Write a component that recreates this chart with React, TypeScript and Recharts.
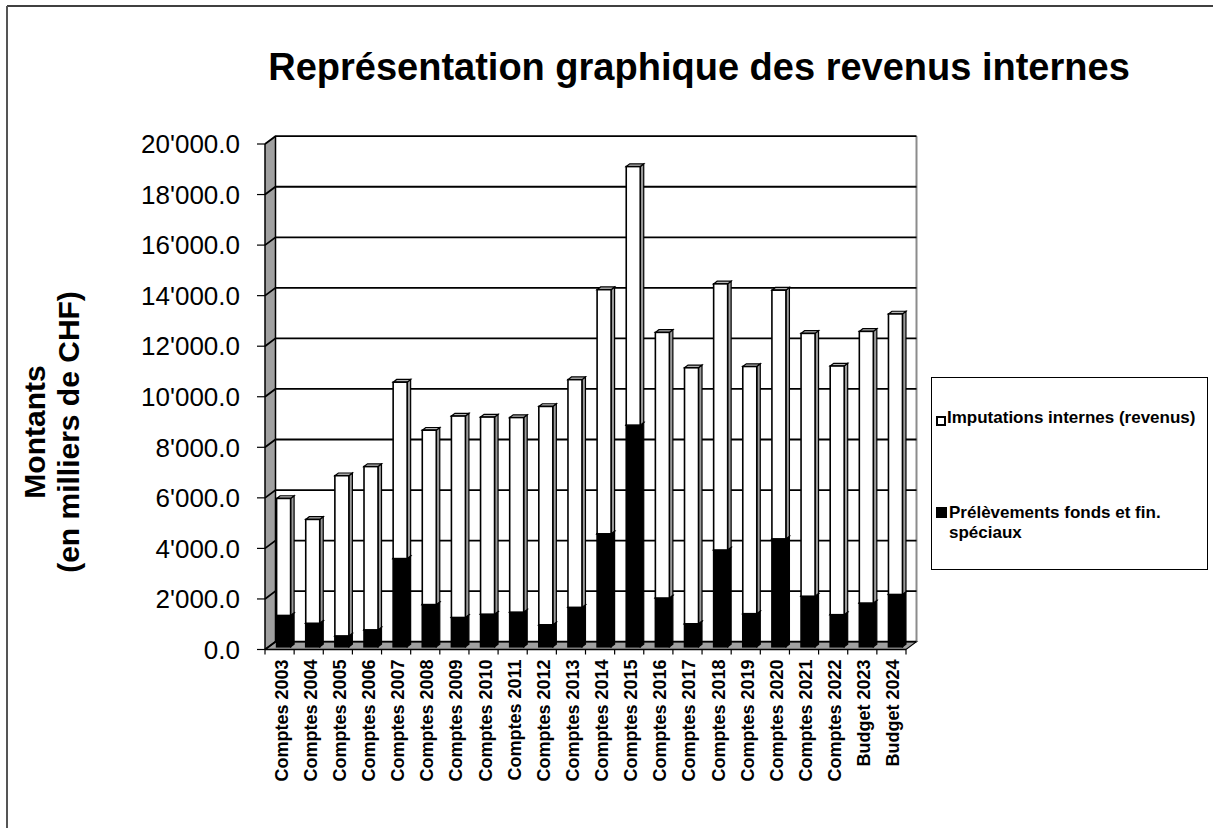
import { BarChart, Bar, XAxis, YAxis, CartesianGrid, Legend } from "recharts";

const categories = [
  "Comptes 2003", "Comptes 2004", "Comptes 2005", "Comptes 2006", "Comptes 2007",
  "Comptes 2008", "Comptes 2009", "Comptes 2010", "Comptes 2011", "Comptes 2012",
  "Comptes 2013", "Comptes 2014", "Comptes 2015", "Comptes 2016", "Comptes 2017",
  "Comptes 2018", "Comptes 2019", "Comptes 2020", "Comptes 2021", "Comptes 2022",
  "Budget 2023", "Budget 2024"
];
const prelevements = [
  1240, 930, 430, 670, 3490, 1670, 1160, 1290, 1370, 870, 1560,
  4470, 8770, 1930, 910, 3830, 1310, 4270, 2000, 1270, 1730, 2070
];
const imputations = [
  4630, 4110, 6340, 6460, 6980, 6900, 7970, 7800, 7700, 8640, 9010,
  9660, 10230, 10510, 10130, 10530, 9780, 9840, 10400, 9840, 10750, 11100
];
const yTicks = [0, 2000, 4000, 6000, 8000, 10000, 12000, 14000, 16000, 18000, 20000];

const seriesNames = ["Imputations internes (revenus)", "Prélèvements fonds et fin. spéciaux"];
const title = "Représentation graphique des revenus internes";

const data = categories.map((cat, i) => ({
  cat,
  prel: prelevements[i],
  imp: imputations[i]
}));

const FONT = "'Liberation Sans', Arial, sans-serif";
const W = 1213;
const H = 828;
// plot frame (front face)
const L = 265;
const R = 906;
const T = 144;
const B = 649.5;
const HALF_BAND = (R - L) / categories.length / 2;
// 3d offsets: back wall, bar position, bar depth
const WX = 10.5;
const WY = -7.8;
const BX = 3.6;
const BY = -2.7;
const DX = 3.5;
const DY = -2.7;

const fmt = (v: number) => {
  const s = Math.round(v).toString().replace(/\B(?=(\d{3})+(?!\d))/g, "'");
  return s + ".0";
};

const gridLine = (p: any) => (
  <polyline
    key={p.key}
    points={`${p.x1},${p.y1} ${p.x1 + WX},${p.y1 + WY} ${p.x2 + WX},${p.y1 + WY}`}
    fill="none"
    stroke="#000"
    strokeWidth={1.8}
  />
);

const makeBox = (face: string, side: string, top: string) => (p: any) => {
  const { x, y, width, height } = p;
  if (!height) return <g />;
  const fx = x + BX;
  const fy = y + BY;
  return (
    <g>
      <polygon
        points={`${fx + width},${fy} ${fx + width + DX},${fy + DY} ${fx + width + DX},${fy + height + DY} ${fx + width},${fy + height}`}
        fill={side}
        stroke="#000"
        strokeWidth={1.2}
      />
      <polygon
        points={`${fx},${fy} ${fx + DX},${fy + DY} ${fx + width + DX},${fy + DY} ${fx + width},${fy}`}
        fill={top}
        stroke="#000"
        strokeWidth={1.2}
      />
      <rect x={fx} y={fy} width={width} height={height} fill={face} stroke="#000" strokeWidth={1.6} />
    </g>
  );
};

// category label plus tick marks on the band edges
const CatTick = (p: any) => {
  const last = p.index === categories.length - 1;
  return (
    <g>
      <line x1={p.x - HALF_BAND} y1={p.y} x2={p.x - HALF_BAND} y2={p.y + 5} stroke="#000" strokeWidth={1.2} />
      {last && <line x1={p.x + HALF_BAND} y1={p.y} x2={p.x + HALF_BAND} y2={p.y + 5} stroke="#000" strokeWidth={1.2} />}
      <text
        transform={`translate(${p.x + 8},${p.y + 10}) rotate(-90)`}
        textAnchor="end"
        fontFamily={FONT}
        fontSize={18}
        fontWeight="bold"
        fill="#000"
      >
        {p.payload.value}
      </text>
    </g>
  );
};

const LegendBox = () => (
  <div
    style={{
      position: "relative",
      width: 277,
      height: 193,
      border: "1.5px solid #000",
      boxSizing: "border-box",
      background: "#fff",
      fontFamily: FONT,
      fontWeight: "bold",
      fontSize: 17,
      color: "#000"
    }}
  >
    <div style={{ position: "absolute", left: 4, top: 38, width: 6, height: 6, border: "2px solid #000", background: "#fff" }} />
    <div style={{ position: "absolute", left: 15, top: 30, whiteSpace: "nowrap" }}>{seriesNames[0]}</div>
    <div style={{ position: "absolute", left: 4, top: 129, width: 11, height: 11, background: "#000" }} />
    <div style={{ position: "absolute", left: 17, top: 125, width: 250, lineHeight: "19.5px" }}>{seriesNames[1]}</div>
  </div>
);

export default function App() {
  return (
    <div style={{ position: "absolute", left: 0, top: 0, width: W, height: H, background: "#fff" }}>
      <svg width={W} height={H} style={{ position: "absolute", left: 0, top: 0 }}>
        <line x1={7} y1={6} x2={W} y2={6} stroke="#000" strokeWidth={1.5} />
        <line x1={7} y1={6} x2={7} y2={H} stroke="#555" strokeWidth={2} />
        <text x={699} y={80} textAnchor="middle" fontFamily={FONT} fontSize={38} fontWeight="bold" fill="#000">
          {title}
        </text>
        <text transform="translate(45,432) rotate(-90)" textAnchor="middle" fontFamily={FONT} fontSize={30} fontWeight="bold" fill="#000">
          Montants
        </text>
        <text transform="translate(79,432) rotate(-90)" textAnchor="middle" fontFamily={FONT} fontSize={30} fontWeight="bold" fill="#000">
          (en milliers de CHF)
        </text>
        <polygon points={`${L},${T} ${L + WX},${T + WY} ${L + WX},${B + WY} ${L},${B}`} fill="#a0a0a0" />
        <line x1={L + WX} y1={T + WY} x2={L + WX} y2={B + WY} stroke="#000" strokeWidth={1.5} />
        <polygon points={`${L},${B} ${L + WX},${B + WY} ${R + WX},${B + WY} ${R},${B}`} fill="#a0a0a0" stroke="#000" strokeWidth={1.2} />
        <line x1={R + WX} y1={T + WY} x2={R + WX} y2={B + WY} stroke="#8c8c8c" strokeWidth={2} />
      </svg>
      <div style={{ position: "absolute", left: 0, top: 0 }}>
        <BarChart
          width={W}
          height={H}
          data={data}
          margin={{ top: T, right: W - R, bottom: 0, left: 0 }}
          barSize={14}
        >
          <CartesianGrid vertical={false} horizontal={gridLine} />
          <XAxis
            dataKey="cat"
            interval={0}
            height={H - B}
            tickSize={0}
            tickMargin={0}
            tickLine={false}
            axisLine={{ stroke: "#000", strokeWidth: 1.5 }}
            tick={<CatTick />}
          />
          <YAxis
            type="number"
            domain={[0, 20000]}
            ticks={yTicks}
            interval={0}
            width={L}
            tickSize={8}
            tickMargin={17}
            tickFormatter={fmt}
            axisLine={{ stroke: "#000", strokeWidth: 1.5 }}
            tickLine={{ stroke: "#000", strokeWidth: 1.2 }}
            tick={{ fill: "#000", fontSize: 26, fontFamily: FONT }}
          />
          <Bar
            dataKey="prel"
            name={seriesNames[1]}
            stackId="a"
            fill="#000"
            isAnimationActive={false}
            shape={makeBox("#000", "#000", "#000")}
          />
          <Bar
            dataKey="imp"
            name={seriesNames[0]}
            stackId="a"
            fill="#fff"
            isAnimationActive={false}
            shape={makeBox("#fff", "#9a9a9a", "#b8b8b8")}
          />
          <Legend
            layout="horizontal"
            verticalAlign="middle"
            align="center"
            wrapperStyle={{ left: 931, top: 377, width: 277, height: 193 }}
            content={() => <LegendBox />}
          />
        </BarChart>
      </div>
    </div>
  );
}
